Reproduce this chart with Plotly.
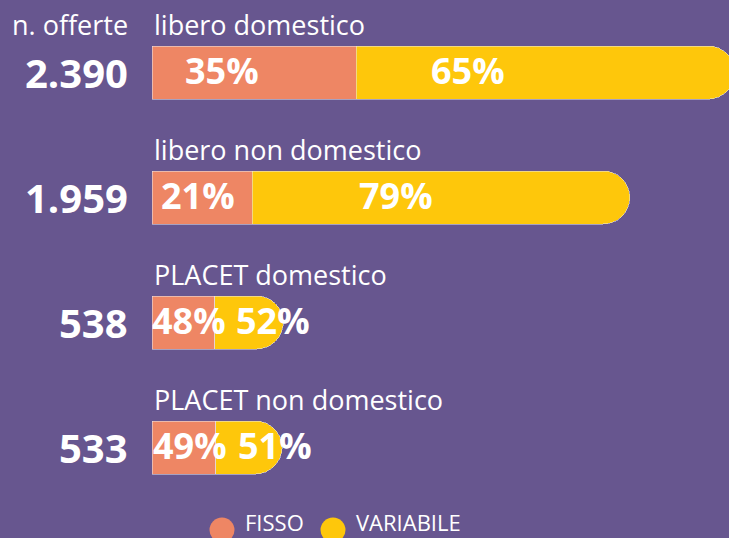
import plotly.graph_objects as go

categories = ["libero domestico", "libero non domestico", "PLACET domestico", "PLACET non domestico"]
n_offerte = [2390, 1959, 538, 533]
n_offerte_labels = ["2.390", "1.959", "538", "533"]
fisso_pct = [35, 21, 48, 49]
variabile_pct = [65, 79, 52, 51]
series_names = ["FISSO", "VARIABILE"]

# layout helpers (pixel offsets of the percentage labels from bar start)
fisso_label_px = [70, 46, 37, 38]
var_label_px = [316, 244, 121, 123]

BG = "#67568F"
C_FISSO = "#EE8664"
C_VAR = "#FEC70B"
FONT = "Open Sans"
W, H = 729, 538
ML = 152

ypos = list(range(len(categories)))
fisso_vals = [n * f / 100 for n, f in zip(n_offerte, fisso_pct)]
var_vals = [n * v / 100 for n, v in zip(n_offerte, variabile_pct)]

fig = go.Figure()
fig.add_trace(go.Bar(y=ypos, x=fisso_vals, orientation="h", marker_color=C_FISSO,
                     width=0.424, name=series_names[0], showlegend=False, hoverinfo="skip"))
fig.add_trace(go.Bar(y=ypos, x=var_vals, orientation="h", marker_color=C_VAR,
                     width=0.424, name=series_names[1], showlegend=False, hoverinfo="skip"))

ann = []
for i, cat in enumerate(categories):
    ann.append(dict(x=0, y=i - 0.385, xref="x", yref="y", text=cat, showarrow=False,
                    xanchor="left", yanchor="middle", xshift=0,
                    font=dict(family=FONT, size=27, color="white")))
    ann.append(dict(x=0, y=i, xref="x", yref="y", text="<b>%s</b>" % n_offerte_labels[i],
                    showarrow=False, xanchor="right", yanchor="middle", xshift=-22,
                    font=dict(family=FONT, size=40, color="white")))
    ann.append(dict(x=0, y=i, xref="x", yref="y", text="<b>%d%%</b>" % fisso_pct[i],
                    showarrow=False, xanchor="center", yanchor="middle",
                    xshift=fisso_label_px[i], yshift=2,
                    font=dict(family=FONT, size=36, color="white")))
    ann.append(dict(x=0, y=i, xref="x", yref="y", text="<b>%d%%</b>" % variabile_pct[i],
                    showarrow=False, xanchor="center", yanchor="middle",
                    xshift=var_label_px[i], yshift=2,
                    font=dict(family=FONT, size=36, color="white")))
ann.append(dict(x=0, y=-0.385, xref="x", yref="y", text="n. offerte", showarrow=False,
                xanchor="right", yanchor="middle", xshift=-22,
                font=dict(family=FONT, size=27, color="white")))

# custom legend (large circles + labels) in paper coordinates
def px_to_paper_x(px):
    return (px - ML) / (W - ML)

def px_to_paper_y(py):
    return (H - py) / H

shapes = []
legend_centers = [222, 333]
legend_colors = [C_FISSO, C_VAR]
ly = 530
r = 12.5
for cx, col, name in zip(legend_centers, legend_colors, series_names):
    shapes.append(dict(type="circle", xref="paper", yref="paper",
                       x0=px_to_paper_x(cx - r), x1=px_to_paper_x(cx + r),
                       y0=px_to_paper_y(ly + r), y1=px_to_paper_y(ly - r),
                       fillcolor=col, line=dict(width=0), layer="above"))
    ann.append(dict(x=px_to_paper_x(cx + r + 9), y=0, xref="paper", yref="paper",
                    text=name, showarrow=False, xanchor="left", yanchor="bottom",
                    borderpad=0,
                    font=dict(family=FONT, size=22, color="white")))

fig.update_layout(
    width=W, height=H,
    margin=dict(l=ML, r=0, t=0, b=0, autoexpand=False),
    paper_bgcolor=BG, plot_bgcolor=BG,
    barmode="stack", barcornerradius="50%",
    xaxis=dict(range=[0, 577 / (583 / 2390)], visible=False, fixedrange=True),
    yaxis=dict(range=[3.724, -0.58], visible=False, fixedrange=True),
    annotations=ann,
    shapes=shapes,
    showlegend=False,
)

fig.write_html("out.html", config={"displayModeBar": False},
               post_script="document.body.style.margin='0';document.body.style.background='%s';" % BG)
